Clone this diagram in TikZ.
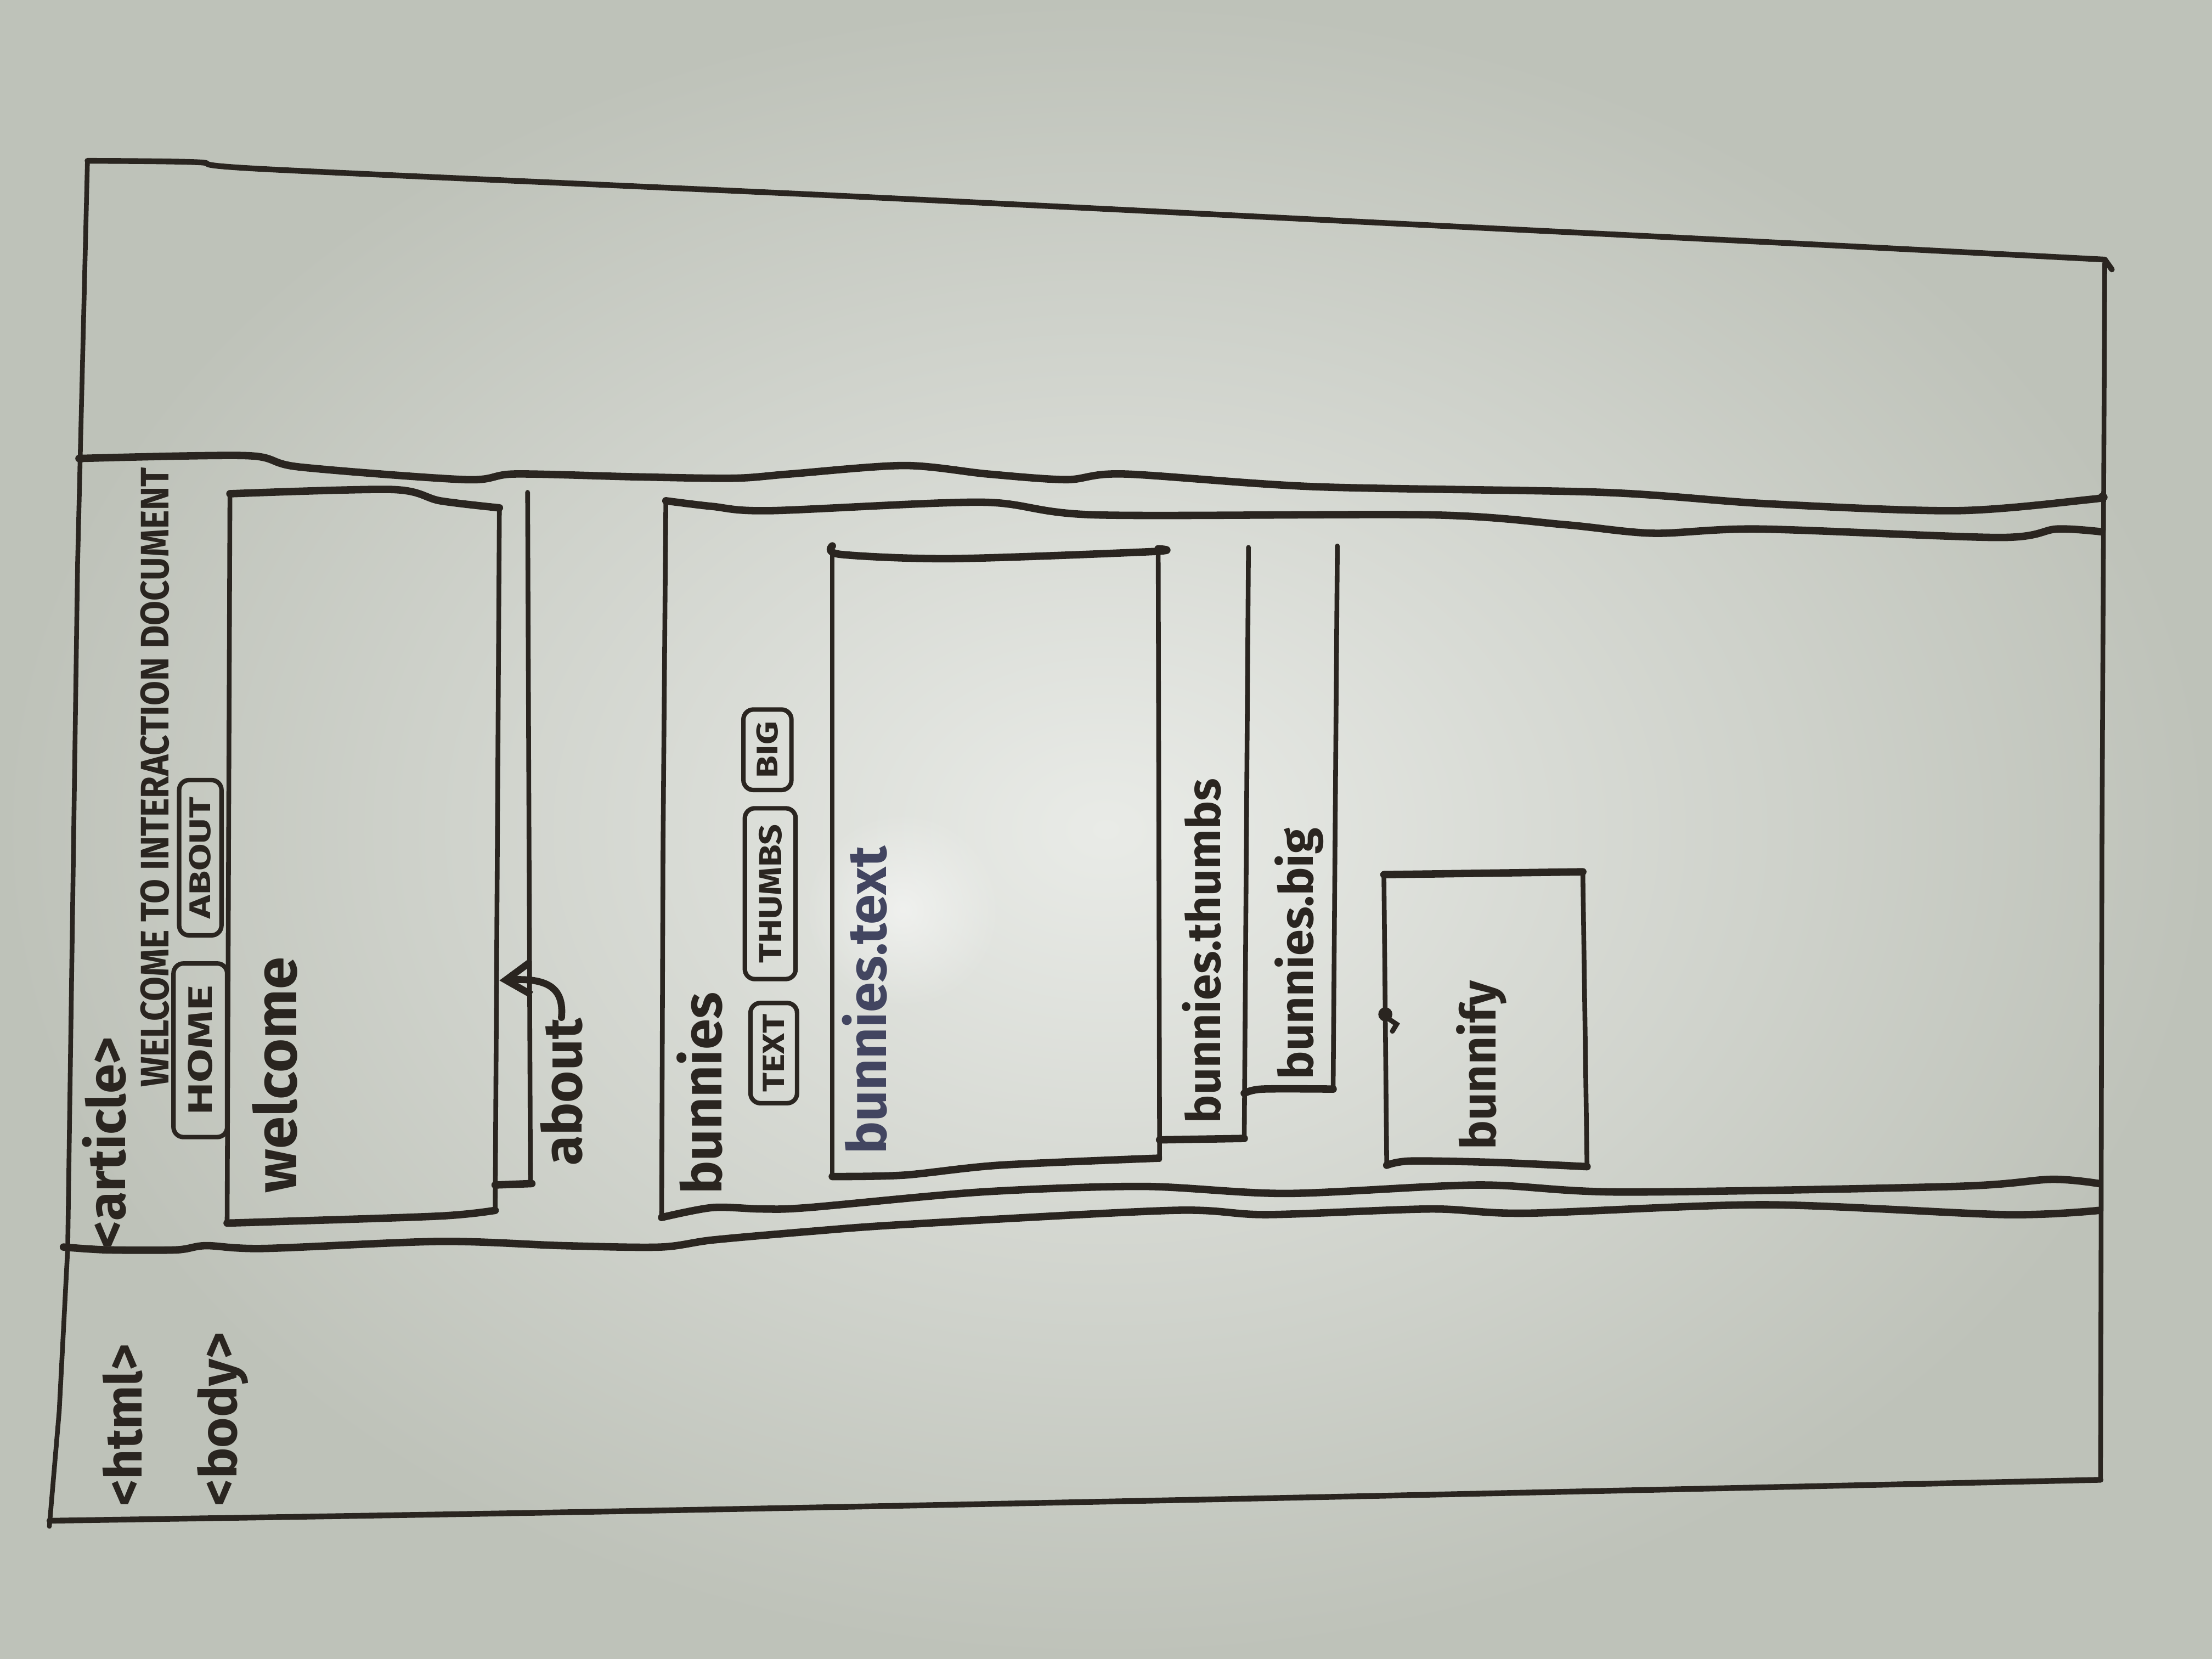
\documentclass[tikz,border=0pt]{standalone}
\usepackage{fontspec}
\setmainfont{Fira Sans}
\usepackage{graphicx}
\usetikzlibrary{arrows.meta,fadings}

\definecolor{ink}{HTML}{2A2520}
\definecolor{inkblue}{HTML}{424560}
\definecolor{boardlight}{HTML}{E9EBE7}
\definecolor{boarddark}{HTML}{BEC2B9}

% soft round fading for the bright spot on the board
\tikzfading[name=glarefade, inner color=transparent!0, outer color=transparent!100]

% marker lettering stretched to a given length (and optionally height)
\newcommand{\inkfit}[2]{\resizebox{#1}{!}{#2}}
\newcommand{\inkbox}[3]{\resizebox{#1}{#2}{#3}}

\tikzset{
  hstroke/.style={draw=ink, line width=1.5pt, line cap=round, line join=round},
  vstroke/.style={draw=ink, line width=0.95pt, line cap=round, line join=round},
  frame/.style={draw=ink, line width=1.15pt, line cap=round, line join=round},
  scrawl/.style={text=ink, rotate=90, inner sep=0pt, font=\bfseries},
  tabbtn/.style={draw=ink, line width=0.9pt, rounded corners=2pt, rotate=90,
    inner sep=0pt, text=ink, font=\bfseries},
  pointer/.style={draw=ink, line width=1.4pt, line cap=round,
    -{Straight Barb[length=5pt,width=6.5pt,line width=1.4pt]}}
}

\begin{document}
\begin{tikzpicture}[x=0.01cm, y=-0.01cm]
\useasboundingbox (0,0) rectangle (1568,1176);

% whiteboard
\shade[inner color=boardlight, outer color=boarddark] (0,0) rectangle (1568,1176);
\fill[white, opacity=0.5, path fading=glarefade] (640,645) circle (70);

% html frame
\draw[frame] plot[smooth, tension=0.5] coordinates {(62,114) (140,115) (190,120) (600,139) (1000,159) (1300,174) (1492,184)} -- (1497,191);
\draw[vstroke] (1492,184) -- (1490,600) -- (1489,1049);
\draw[frame] plot[smooth, tension=0.5] coordinates {(35,1078) (400,1072) (900,1062) (1489,1049)};
\draw[vstroke] (62,114) -- (55,400) -- (48,885) -- (42,1000) -- (35,1082);

% body / article band
\draw[hstroke] plot[smooth, tension=0.5] coordinates {(56,325) (175,323) (212,331) (330,340) (365,336) (450,338) (520,339) (560,336) (641,330) (700,336) (756,340) (797,336) (932,345) (1136,349) (1251,357) (1387,362) (1482,354) (1490,352)};
\draw[hstroke] plot[smooth, tension=0.5] coordinates {(45,884) (76,886) (125,886) (146,883) (187,885) (312,880) (399,883) (468,884) (505,879) (573,873) (641,868) (831,858) (898,861) (1014,857) (1082,860) (1251,854) (1421,861) (1488,858)};

% welcome section
\draw[hstroke] plot[smooth, tension=0.5] coordinates {(163,350) (278,347) (312,355) (354,360)};
\draw[vstroke] (163,350) -- (161,867);
\draw[vstroke] (354,360) -- (351,858);
\draw[hstroke] plot[smooth, tension=0.5] coordinates {(161,867) (194,866) (312,862) (351,858)};

% about section
\draw[vstroke] (374,349) -- (376,839);
\draw[hstroke] (351,840) -- (377,839);

% bunnies section
\draw[hstroke] plot[smooth, tension=0.5] coordinates {(472,355) (505,359) (546,362) (696,356) (777,365) (1015,365) (1110,372) (1172,378) (1247,375) (1417,381) (1458,375) (1490,377)};
\draw[vstroke] (472,355) -- (470,600) -- (469,863);
\draw[hstroke] plot[smooth, tension=0.5] coordinates {(469,863) (505,856) (540,857) (573,856) (695,845) (810,841) (912,846) (1048,840) (1150,845) (1386,841) (1454,836) (1488,839)};

% bunnies.text panel
\draw[hstroke] plot[smooth, tension=0.5] coordinates {(590,387) (596,393) (675,396) (817,391) (821,389)};
\draw[vstroke] (590,388) -- (590,834);
\draw[vstroke] (821,389) -- (822,822);
\draw[hstroke] plot[smooth, tension=0.5] coordinates {(590,834) (641,833) (708,826) (821,821)};

% bunnies.thumbs panel
\draw[vstroke] (885,388) -- (882,808);
\draw[hstroke] (822,808) -- (882,807);

% bunnies.big panel
\draw[vstroke] (948,387) -- (945,773);
\draw[hstroke] plot[smooth, tension=0.5] coordinates {(882,775) (895,772) (945,772)};

% bunnify box
\draw[hstroke] (981,620) -- (1122,618);
\draw[vstroke] (981,620) -- (983,826);
\draw[vstroke] (1122,618) -- (1125,827);
\draw[hstroke] plot[smooth, tension=0.5] coordinates {(983,826) (1000,823) (1060,824) (1125,827)};
\fill[ink] (982,719) circle (5);
\draw[ink, line width=1pt, line cap=round] (984,722) -- (990,726) -- (987,731);

% labels
\node[scrawl] (html) at (87,1010) {\inkfit{1.15cm}{<html>}};
\node[scrawl] (body) at (158,1006) {\inkfit{1.23cm}{<body>}};
\node[scrawl] (article) at (74,810) {\inkfit{1.50cm}{<article>}};
\node[scrawl] (title) at (110,551) {\inkbox{4.39cm}{0.2cm}{WELCOME TO INTERACTION DOCUMENT}};

\node[tabbtn, minimum width=1.23cm, minimum height=0.38cm] (home) at (142,744.5) {\inkbox{0.92cm}{0.17cm}{HOME}};
\node[tabbtn, minimum width=1.10cm, minimum height=0.30cm] (aboutbtn) at (142,608) {\inkbox{0.86cm}{0.15cm}{ABOUT}};

\node[scrawl] (welcome) at (195,762) {\inkfit{1.67cm}{welcome}};
\node[scrawl] (about) at (398,774) {\inkfit{1.04cm}{about}};
\node[scrawl] (bunnies) at (496,775) {\inkfit{1.43cm}{bunnies}};

\node[tabbtn, minimum width=0.71cm, minimum height=0.33cm] (textbtn) at (548.5,746.5) {\inkbox{0.55cm}{0.15cm}{TEXT}};
\node[tabbtn, minimum width=1.21cm, minimum height=0.36cm] (thumbsbtn) at (546,633.5) {\inkbox{0.98cm}{0.16cm}{THUMBS}};
\node[tabbtn, minimum width=0.57cm, minimum height=0.34cm] (bigbtn) at (544,531.5) {\inkbox{0.40cm}{0.15cm}{BIG}};

\node[scrawl, text=inkblue] (btext) at (613,709) {\inkfit{2.18cm}{bunnies.text}};
\node[scrawl] (bthumbs) at (852,674) {\inkfit{2.44cm}{bunnies.thumbs}};
\node[scrawl] (bbig) at (921,676) {\inkfit{1.78cm}{bunnies.big}};
\node[scrawl] (bunnify) at (1050,755) {\inkfit{1.20cm}{bunnify}};

% about points back to the welcome panel
\coordinate (abtip) at (354,695);
\draw[pointer] (about.east) .. controls (400,700) and (388,693) .. (abtip);
\end{tikzpicture}
\end{document}
